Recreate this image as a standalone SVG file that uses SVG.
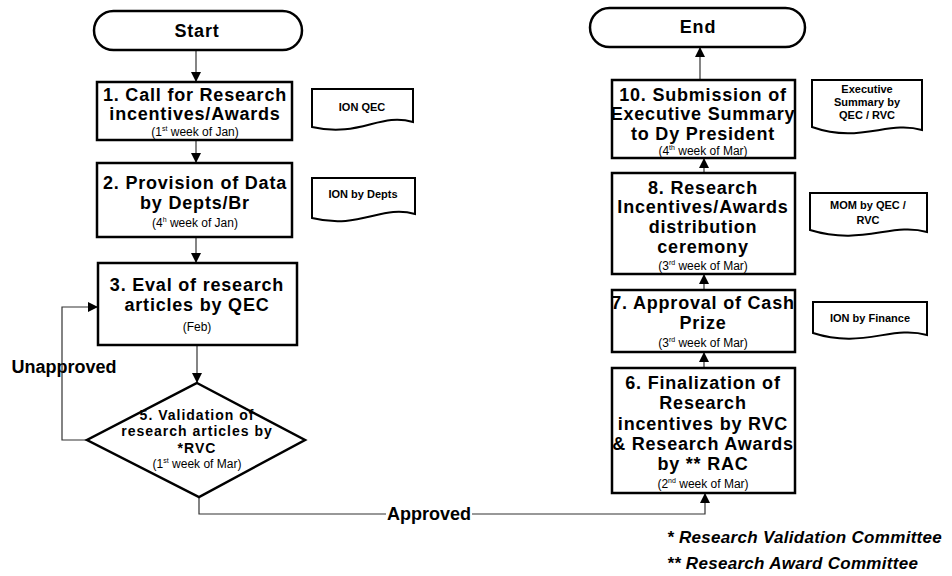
<svg xmlns="http://www.w3.org/2000/svg" width="952" height="576" viewBox="0 0 952 576">
<defs>
<marker id="ah" markerWidth="10" markerHeight="10" refX="10" refY="5" orient="auto" markerUnits="userSpaceOnUse">
<path d="M0,0 L10,5 L0,10 z" fill="#000"/>
</marker>
<style>
.box{fill:#fff;stroke:#000;stroke-width:2.5}
.doc{fill:#fff;stroke:#000;stroke-width:2}
.t{font-family:"Liberation Sans",Arial,sans-serif;font-weight:bold;font-size:18px;letter-spacing:0.8px;text-anchor:middle;fill:#000}
.d{font-family:"Liberation Sans",Arial,sans-serif;font-size:12px;text-anchor:middle;fill:#000}
.s{font-family:"Liberation Sans",Arial,sans-serif;font-weight:bold;font-size:14px;letter-spacing:1px;text-anchor:middle;fill:#000}
.dt{font-family:"Liberation Sans",Arial,sans-serif;font-weight:bold;font-size:11px;text-anchor:middle;fill:#000}
.c{fill:none;stroke:#333;stroke-width:1.2}
.lbl{font-family:"Liberation Sans",Arial,sans-serif;font-weight:bold;font-size:18px;text-anchor:middle;fill:#000}
.fn{font-family:"Liberation Sans",Arial,sans-serif;font-weight:bold;font-style:italic;font-size:17px;letter-spacing:0.3px;fill:#000}
.sup{font-size:7px}
</style>
</defs>
<rect width="952" height="576" fill="#fff"/>

<g id="connectors">
<path class="c" d="M196,50 V82" marker-end="url(#ah)"/>
<path class="c" d="M196,140 V163" marker-end="url(#ah)"/>
<path class="c" d="M196,237 V263" marker-end="url(#ah)"/>
<path class="c" d="M197,345 V383" marker-end="url(#ah)"/>
<path class="c" d="M87,440 H62 V307 H98" marker-end="url(#ah)"/>
<path class="c" d="M199,497 V514 H705 V493" marker-end="url(#ah)"/>
<path class="c" d="M704,368 V352" marker-end="url(#ah)"/>
<path class="c" d="M704,290 V274" marker-end="url(#ah)"/>
<path class="c" d="M704,173 V158" marker-end="url(#ah)"/>
<path class="c" d="M700,80 V47" marker-end="url(#ah)"/>
<rect x="386" y="505" width="86" height="18" fill="#fff"/>
<text class="lbl" x="429" y="520">Approved</text>
<text class="lbl" x="64" y="373">Unapproved</text>
</g>

<g id="start">
<rect class="box" x="94" y="11" width="208" height="39" rx="19.5"/>
<text class="t" x="197" y="37">Start</text>
</g>

<g id="n1">
<rect class="box" x="97" y="82" width="195" height="58"/>
<text class="t" x="195" y="101">1. Call for Research</text>
<text class="t" x="195" y="120">incentives/Awards</text>
<text class="d" x="195" y="136">(1<tspan class="sup" dy="-5">st</tspan><tspan dy="5"> week of Jan)</tspan></text>
</g>

<g id="n2">
<rect class="box" x="97" y="163" width="195" height="74"/>
<text class="t" x="195" y="189">2. Provision of Data</text>
<text class="t" x="195" y="209">by Depts/Br</text>
<text class="d" x="195" y="227">(4<tspan class="sup" dy="-5">h</tspan><tspan dy="5"> week of Jan)</tspan></text>
</g>

<g id="n3">
<rect class="box" x="98" y="263" width="199" height="82"/>
<text class="t" x="197" y="291">3. Eval of research</text>
<text class="t" x="197" y="311">articles by QEC</text>
<text class="d" x="197" y="331">(Feb)</text>
</g>

<g id="n5">
<path class="box" d="M197,383 L305,440 L199,497 L87,440 Z"/>
<text class="s" x="197" y="420">5. Validation of</text>
<text class="s" x="197" y="436">research articles by</text>
<text class="s" x="197" y="453">*RVC</text>
<text class="d" x="197" y="468">(1<tspan class="sup" dy="-5">st</tspan><tspan dy="5"> week of Mar)</tspan></text>
</g>

<g id="doc-ion-qec">
<path class="doc" d="M312,89 H413 V122 C380,112 360,138 312,127 Z"/>
<text class="dt" x="362" y="111">ION QEC</text>
</g>

<g id="doc-ion-depts">
<path class="doc" d="M312,178 H415 V214 C382,204 360,230 312,218 Z"/>
<text class="dt" x="363" y="198">ION by Depts</text>
</g>

<g id="end">
<rect class="box" x="590" y="8" width="215" height="39" rx="19.5"/>
<text class="t" x="698" y="33">End</text>
</g>

<g id="n10">
<rect class="box" x="612" y="80" width="183" height="78"/>
<text class="t" x="703" y="101">10. Submission of</text>
<text class="t" x="703" y="120">Executive Summary</text>
<text class="t" x="703" y="140">to Dy President</text>
<text class="d" x="703" y="155">(4<tspan class="sup" dy="-5">th</tspan><tspan dy="5"> week of Mar)</tspan></text>
</g>

<g id="doc-exec">
<path class="doc" d="M812,80 H922 V130 C888,120 860,144 812,127 Z"/>
<text class="dt" x="867" y="93">Executive</text>
<text class="dt" x="867" y="106">Summary by</text>
<text class="dt" x="867" y="119">QEC / RVC</text>
</g>

<g id="n8">
<rect class="box" x="612" y="173" width="183" height="101"/>
<text class="t" x="703" y="194">8. Research</text>
<text class="t" x="703" y="213">Incentives/Awards</text>
<text class="t" x="703" y="233">distribution</text>
<text class="t" x="703" y="253">ceremony</text>
<text class="d" x="703" y="270">(3<tspan class="sup" dy="-5">rd</tspan><tspan dy="5"> week of Mar)</tspan></text>
</g>

<g id="doc-mom">
<path class="doc" d="M810,193 H927 V232 C892,222 862,246 810,230 Z"/>
<text class="dt" x="868" y="209">MOM by QEC /</text>
<text class="dt" x="868" y="224">RVC</text>
</g>

<g id="n7">
<rect class="box" x="612" y="290" width="183" height="62"/>
<text class="t" x="703" y="309">7. Approval of Cash</text>
<text class="t" x="703" y="329">Prize</text>
<text class="d" x="703" y="347">(3<tspan class="sup" dy="-5">rd</tspan><tspan dy="5"> week of Mar)</tspan></text>
</g>

<g id="doc-finance">
<path class="doc" d="M813,302 H927 V335 C892,325 862,349 813,333 Z"/>
<text class="dt" x="870" y="322">ION by Finance</text>
</g>

<g id="n6">
<rect class="box" x="612" y="368" width="183" height="125"/>
<text class="t" x="703" y="389">6. Finalization of</text>
<text class="t" x="703" y="409">Research</text>
<text class="t" x="703" y="430">incentives by RVC</text>
<text class="t" x="703" y="450">&amp; Research Awards</text>
<text class="t" x="703" y="470">by ** RAC</text>
<text class="d" x="703" y="488">(2<tspan class="sup" dy="-5">nd</tspan><tspan dy="5"> week of Mar)</tspan></text>
</g>

<g id="footnotes">
<text class="fn" x="667" y="543">* Research Validation Committee</text>
<text class="fn" x="667" y="569">** Research Award Committee</text>
</g>
</svg>
